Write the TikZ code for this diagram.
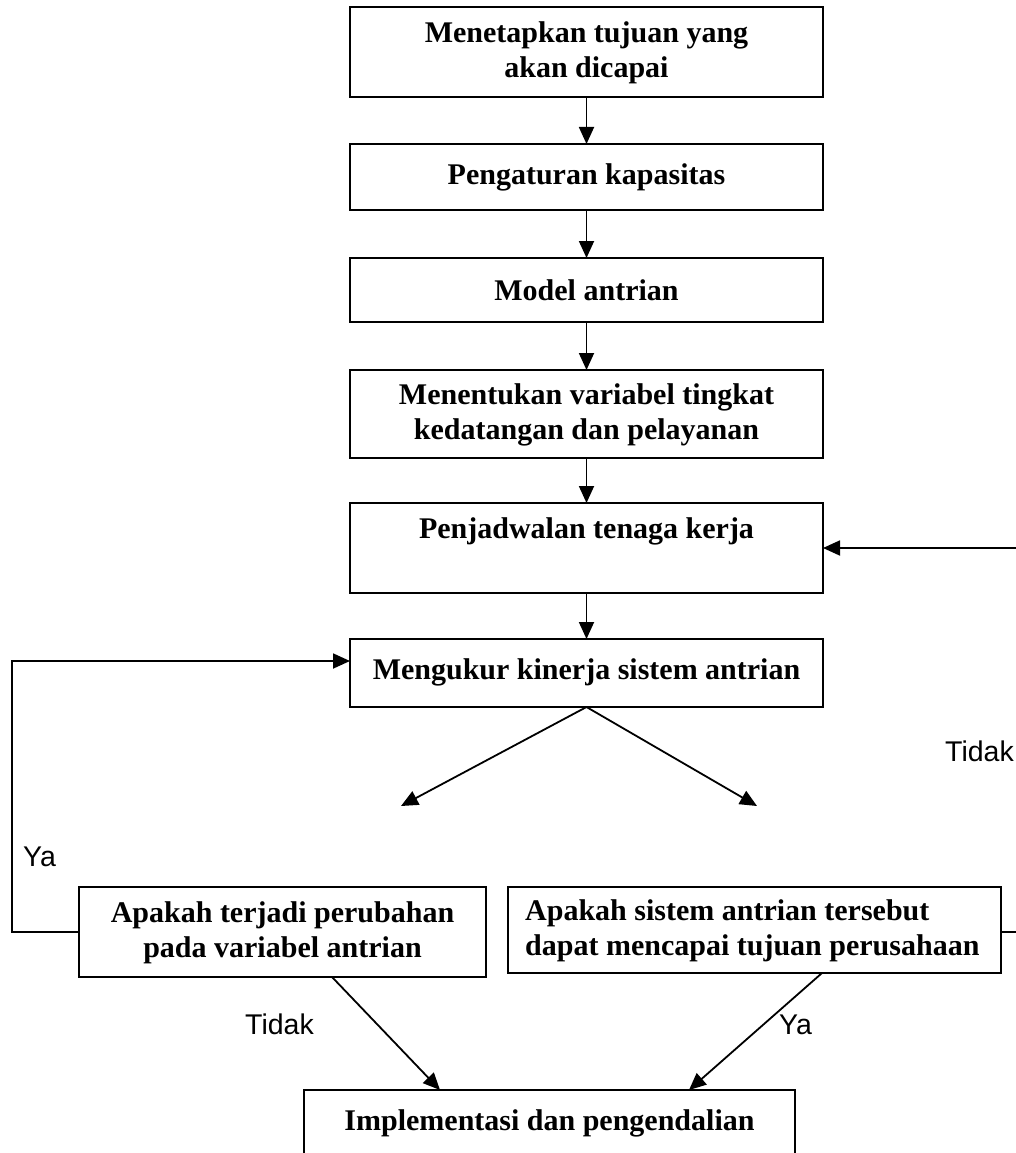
\documentclass[tikz,border=0pt]{standalone}
\usepackage{fontspec}
\setmainfont{Liberation Serif}
\newfontfamily\arialf{Liberation Sans}
\usetikzlibrary{arrows.meta}
\begin{document}
\begin{tikzpicture}[x=1pt,y=-1pt,
  boxline/.style={line width=2pt},
  conn/.style={line width=1.8pt,-{Triangle[length=17pt,width=15pt]}},
  plain/.style={line width=1.8pt},
  boxtxt/.style={font=\bfseries\fontsize{30}{35}\selectfont,align=center,inner sep=0pt},
  lbl/.style={font=\arialf\fontsize{28.5}{32}\selectfont,inner sep=0pt}]
\useasboundingbox (0,0) rectangle (1016,1153);
% boxes
\draw[boxline] (350,7) rectangle (823,97);
\node[boxtxt] (b1) at (586.5,53) {Menetapkan tujuan yang\\akan dicapai};
\draw[boxline] (350,144) rectangle (823,210);
\node[boxtxt] (b2) at (586.5,177) {Pengaturan kapasitas};
\draw[boxline] (350,258) rectangle (823,322);
\node[boxtxt] (b3) at (586.5,290) {Model antrian};
\draw[boxline] (350,370) rectangle (823,458);
\node[boxtxt] (b4) at (586.5,415) {Menentukan variabel tingkat\\kedatangan dan pelayanan};
\draw[boxline] (350,503) rectangle (823,593);
\node[boxtxt] (b5) at (586.5,531) {Penjadwalan tenaga kerja};
\draw[boxline] (350,639) rectangle (823,707);
\node[boxtxt] (b6) at (586.5,672) {Mengukur kinerja sistem antrian};
\draw[boxline] (79,887) rectangle (486,977);
\node[boxtxt] (b7) at (282.5,933) {Apakah terjadi perubahan\\pada variabel antrian};
\draw[boxline] (508,887) rectangle (1001,973);
\node[boxtxt,align=left,anchor=west] (b8) at (525,931) {Apakah sistem antrian tersebut\\dapat mencapai tujuan perusahaan};
\draw[boxline] (304,1170) -- (304,1090) -- (795,1090) -- (795,1170);
\node[boxtxt] (b9) at (549.5,1123) {Implementasi dan pengendalian};
% coordinates
\coordinate (c1s) at (586.5,97);  \coordinate (c2n) at (586.5,144);
\coordinate (c2s) at (586.5,210); \coordinate (c3n) at (586.5,258);
\coordinate (c3s) at (586.5,322); \coordinate (c4n) at (586.5,370);
\coordinate (c4s) at (586.5,458); \coordinate (c5n) at (586.5,503);
\coordinate (c5s) at (586.5,593); \coordinate (c6n) at (586.5,639);
\coordinate (c6s) at (586.5,707);
\coordinate (rin) at (1016,548); \coordinate (c5e) at (823,548);
\coordinate (c8e) at (1001,932); \coordinate (rout) at (1016,932);
\coordinate (c7w) at (79,932); \coordinate (lc1) at (12,932); \coordinate (lc2) at (12,661);
\coordinate (c6w) at (350,661);
\coordinate (tl) at (401,806); \coordinate (tr) at (757,806);
\coordinate (c7s) at (332,977); \coordinate (c9l) at (440,1090);
\coordinate (c8s) at (822,973); \coordinate (c9r) at (689,1090);
% connectors
\draw[conn] (c1s) -- (c2n);
\draw[conn] (c2s) -- (c3n);
\draw[conn] (c3s) -- (c4n);
\draw[conn] (c4s) -- (c5n);
\draw[conn] (c5s) -- (c6n);
\draw[conn] (rin) -- (c5e);
\draw[plain] (c8e) -- (rout);
\draw[conn] (c7w) -- (lc1) -- (lc2) -- (c6w);
\draw[conn] (c6s) -- (tl);
\draw[conn] (c6s) -- (tr);
\draw[conn] (c7s) -- (c9l);
\draw[conn] (c8s) -- (c9r);
% labels
\node[lbl,anchor=base west] (l1) at (945,761) {Tidak};
\node[lbl,anchor=base west] (l2) at (23,866) {Ya};
\node[lbl,anchor=base west] (l3) at (245,1034) {Tidak};
\node[lbl,anchor=base west] (l4) at (779,1034) {Ya};
\end{tikzpicture}
\end{document}
